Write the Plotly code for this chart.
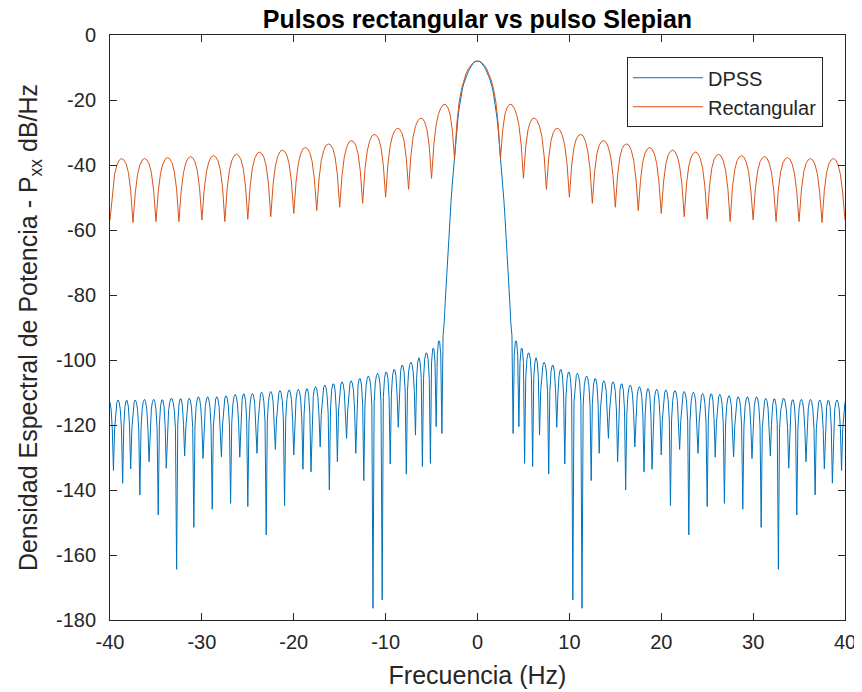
import plotly.graph_objects as go

# ---------------- data (right half, 0..40 Hz; spectrum is symmetric) ----------------
rect_step_hz = 0.25
rect_db_half = [
    -8.0, -8.1, -8.6, -9.3, -10.4, -11.9, -13.9, -16.7, -20.6, -27.3, -38.0,
    -29.0, -24.2, -22.2, -21.3, -21.5, -22.5, -24.4, -27.6, -33.6, -44.1,
    -34.3, -29.1, -26.7, -25.7, -25.6, -26.4, -28.1, -31.2, -37.1, -47.5,
    -37.9, -32.5, -30.0, -28.9, -28.7, -29.4, -31.0, -34.0, -39.8, -49.9,
    -40.1, -34.6, -32.0, -30.9, -30.6, -31.1, -32.7, -35.7, -41.4, -51.8,
    -42.0, -36.5, -33.9, -32.8, -32.5, -33.0, -34.6, -37.6, -43.3, -53.0,
    -43.0, -37.5, -34.9, -33.8, -33.5, -34.0, -35.6, -38.6, -44.3, -54.0,
    -44.4, -38.9, -36.2, -35.0, -34.6, -35.1, -36.6, -39.5, -45.2, -54.9,
    -45.2, -39.7, -37.0, -35.8, -35.4, -35.9, -37.4, -40.3, -46.0, -55.9,
    -45.8, -40.3, -37.6, -36.4, -36.0, -36.5, -38.0, -40.9, -46.6, -56.7,
    -46.5, -41.0, -38.3, -37.1, -36.7, -37.2, -38.7, -41.6, -47.3, -57.4,
    -46.9, -41.4, -38.7, -37.5, -37.1, -37.6, -39.1, -42.0, -47.7, -56.9,
    -47.2, -41.7, -39.0, -37.8, -37.4, -37.9, -39.4, -42.3, -48.0, -57.4,
    -47.5, -42.0, -39.3, -38.1, -37.7, -38.2, -39.7, -42.6, -48.3, -57.4,
    -47.8, -42.3, -39.6, -38.4, -38.0, -38.5, -40.0, -42.9, -48.6, -57.7,
    -47.8, -42.3, -39.6, -38.4, -38.0, -38.5, -40.0, -42.9, -48.6, -57.0,
]

dpss_step_hz = 0.125
dpss_db_half = [
    -8.0, -8.05, -8.2, -8.45, -8.8, -9.25, -9.8, -10.5, -11.2, -12.0,
    -12.9, -13.9, -15.0, -16.3, -18.3, -20.3, -22.6, -25.5, -29.0, -33.0,
    -37.0, -41.5, -46.0, -51.0, -56.5, -62.0, -68.0, -74.5, -81.5, -88.5,
    -92.5, -122.6,
    -98.4, -94.2, -94.2, -98.4, -120.5,
    -100.7, -96.5, -96.5, -100.7, -131.8,
    -105.7, -99.8, -97.9, -97.9, -99.8, -105.7, -132.8,
    -105.3, -100.6, -99.3, -100.6, -105.3, -123.1,
    -109.7, -103.7, -101.4, -100.7, -101.4, -103.7, -109.7, -135.1,
    -109.5, -103.6, -101.7, -101.7, -103.6, -109.5, -120.7,
    -110.8, -104.9, -103.0, -103.0, -104.9, -110.8, -132.0,
    -111.6, -105.7, -103.8, -103.8, -105.7, -111.6, -173.8,
    -113.1, -107.1, -104.8, -104.1, -104.8, -107.1, -113.1, -176.4,
    -113.9, -107.9, -105.6, -104.9, -105.6, -107.9, -113.9, -137.1,
    -113.6, -107.7, -105.8, -105.8, -107.7, -113.6, -128.7,
    -115.4, -109.4, -107.1, -106.4, -107.1, -109.4, -115.4, -124.1,
    -115.7, -109.7, -107.4, -106.7, -107.4, -109.7, -115.7, -131.3,
    -115.2, -109.3, -107.4, -107.4, -109.3, -115.2, -140.0,
    -116.7, -110.7, -108.4, -107.7, -108.4, -110.7, -116.7, -126.7,
    -117.2, -111.2, -108.9, -108.2, -108.9, -111.2, -117.2, -134.4,
    -116.7, -110.8, -108.9, -108.9, -110.8, -116.7, -133.6,
    -118.0, -112.0, -109.7, -109.0, -109.7, -112.0, -118.0, -129.2,
    -118.2, -112.2, -109.9, -109.2, -109.9, -112.2, -118.2, -144.8,
    -118.4, -112.4, -110.1, -109.4, -110.1, -112.4, -118.4, -127.5,
    -118.7, -112.7, -110.4, -109.7, -110.4, -112.7, -118.7, -153.8,
    -118.9, -112.9, -110.6, -109.9, -110.6, -112.9, -118.9, -128.7,
    -119.3, -113.3, -111.0, -110.3, -111.0, -113.3, -119.3, -145.1,
    -118.3, -112.4, -110.5, -110.5, -112.4, -118.3, -129.9,
    -119.6, -113.6, -111.3, -110.6, -111.3, -113.6, -119.6, -144.1,
    -120.0, -114.0, -111.7, -111.0, -111.7, -114.0, -120.0, -129.8,
    -120.3, -114.3, -112.0, -111.3, -112.0, -114.3, -120.3, -145.9,
    -120.3, -114.3, -112.0, -111.3, -112.0, -114.3, -120.3, -130.3,
    -120.3, -114.3, -112.0, -111.3, -112.0, -114.3, -120.3, -151.5,
    -120.8, -114.8, -112.5, -111.8, -112.5, -114.8, -120.8, -129.5,
    -119.8, -113.9, -112.0, -112.0, -113.9, -119.8, -164.4,
    -121.1, -115.6, -113.0, -111.9, -111.9, -113.0, -115.6, -121.1, -133.3,
    -120.1, -114.2, -112.3, -112.3, -114.2, -120.1, -147.7,
    -121.1, -115.1, -112.8, -112.1, -112.8, -115.1, -121.1, -131.3,
    -121.1, -115.1, -112.8, -112.1, -112.8, -115.1, -121.1, -141.5,
    -121.3, -115.3, -113.0, -112.3, -113.0, -115.3, -121.3, -133.5,
    -120.3, -114.4, -112.5, -112.5, -114.4, -120.3, -137.9,
    -121.3, -115.3, -113.0, -112.3, -113.0, -115.3, -121.3, -134.0,
    -121.3, -115.3, -113.0,
]

series_names = ["DPSS", "Rectangular"]
x_ticks = [-40, -30, -20, -10, 0, 10, 20, 30, 40]
x_tick_labels = ["-40", "-30", "-20", "-10", "0", "10", "20", "30", "40"]
y_ticks = [0, -20, -40, -60, -80, -100, -120, -140, -160, -180]
y_tick_labels = ["0", "-20", "-40", "-60", "-80", "-100", "-120", "-140", "-160", "-180"]


def mirror(step, half):
    f = [i * step for i in range(len(half))]
    xs = [-v for v in reversed(f)] + f[1:]
    ys = list(reversed(half)) + half[1:]
    return xs, ys


dpss_x, dpss_y = mirror(dpss_step_hz, dpss_db_half)
rect_x, rect_y = mirror(rect_step_hz, rect_db_half)

AX = "#262626"
FONT = "Liberation Sans, Arial, sans-serif"

fig = go.Figure()
fig.add_trace(go.Scatter(x=dpss_x, y=dpss_y, mode="lines", name=series_names[0],
                         line=dict(color="#0072BD", width=1)))
fig.add_trace(go.Scatter(x=rect_x, y=rect_y, mode="lines", name=series_names[1],
                         line=dict(color="#D95319", width=1)))

axis_common = dict(
    showgrid=False, zeroline=False, showline=True, linecolor=AX, linewidth=1,
    mirror="ticks", ticks="inside", ticklen=7, tickwidth=1, tickcolor=AX,
    tickfont=dict(family=FONT, size=20, color=AX), automargin=False,
)

# the page body adds an 8 px offset, so the figure is 8 px smaller than the window
fig.update_layout(
    width=854, height=684,
    margin=dict(l=102, r=17, t=27, b=72),
    paper_bgcolor="white", plot_bgcolor="white",
    font=dict(family=FONT, color=AX),
    title=dict(text="<b>Pulsos rectangular vs pulso Slepian</b>",
               font=dict(family=FONT, size=25, color="black"),
               x=0.5, xref="paper", xanchor="center",
               y=1 - 11 / 684, yref="container", yanchor="middle"),
    xaxis=dict(range=[-40, 40], tickvals=x_ticks, ticktext=x_tick_labels, ticklabelstandoff=4,
               title=dict(text="Frecuencia (Hz)", font=dict(family=FONT, size=25, color=AX), standoff=14),
               **axis_common),
    yaxis=dict(range=[-180, 0], tickvals=y_ticks, ticktext=y_tick_labels, ticklabelstandoff=9,
               title=dict(text="Densidad Espectral de Potencia - P<sub>xx</sub> dB/Hz",
                          font=dict(family=FONT, size=25, color=AX), standoff=11),
               **axis_common),
    legend=dict(x=0.970, y=0.962, xanchor="right", yanchor="top",
                bordercolor=AX, borderwidth=1, bgcolor="white",
                font=dict(family=FONT, size=20, color=AX),
                itemwidth=70, tracegroupgap=0),
    showlegend=True,
)

fig.write_html("out.html")
